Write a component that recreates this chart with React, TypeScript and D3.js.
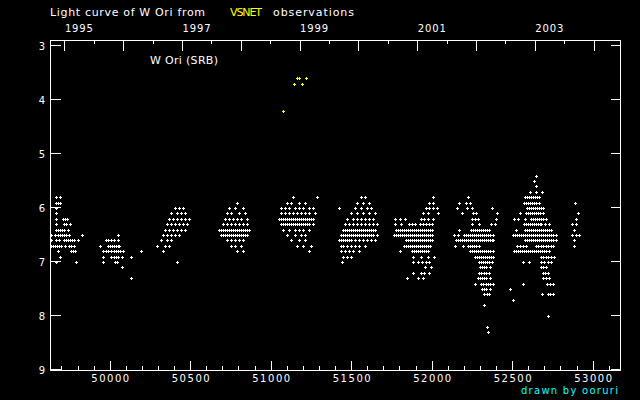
import React from 'react';
import * as d3 from 'd3';

type Rows = [number, number[]][];

// Visual estimates (JD - 2400000) grouped by magnitude row, per observing season
const season1: Rows = [
  [5.8, [49669, 49694]],
  [5.9, [49669, 49681, 49694]],
  [6.0, [49669]],
  [6.1, [49666]],
  [6.2, [49666, 49709, 49722, 49734]],
  [6.3, [49666, 49716, 49731, 49753]],
  [6.4, [49666, 49678, 49691, 49703, 49716, 49740]],
  [6.5, [49635, 49660, 49681, 49694, 49706, 49719, 49731, 49747, 49827]],
  [6.6, [49635, 49666, 49688, 49716, 49728, 49740, 49753, 49765, 49778, 49803]],
  [6.7, [49635, 49647, 49660, 49672, 49685, 49697, 49722, 49750, 49762, 49781]],
  [6.8, [49678, 49759, 49771, 49787]],
  [6.9, [49691]],
  [7.0, [49666, 49790]],
];

const season2: Rows = [
  [6.5, [50050]],
  [6.6, [49976, 49989, 50011, 50029, 50050]],
  [6.7, [49938, 49988, 50000, 50012, 50026, 50040, 50051, 50060]],
  [6.8, [49961, 49976, 49992, 50009, 50026, 50039, 50051, 50063, 50081, 50193]],
  [6.9, [49961, 50011, 50025, 50040, 50051, 50075, 50130]],
  [7.0, [49961, 50035, 50048]],
  [7.1, [50075]],
  [7.3, [50130]],
];

const season3: Rows = [
  [6.0, [50408, 50433, 50458]],
  [6.1, [50383, 50421, 50445, 50470]],
  [6.2, [50371, 50396, 50421, 50445, 50470, 50495]],
  [6.3, [50358, 50383, 50408, 50433, 50458, 50483]],
  [6.4, [50346, 50371, 50396, 50421, 50445, 50470]],
  [6.5, [50334, 50358, 50383, 50408, 50433]],
  [6.6, [50321, 50358, 50383]],
  [6.7, [50296, 50346, 50371]],
  [6.8, [50334]],
  [7.0, [50421]],
];

const season4: Rows = [
  [5.9, [50793]],
  [6.0, [50744, 50781, 50830]],
  [6.1, [50731, 50756, 50806, 50843]],
  [6.2, [50719, 50744, 50768, 50793, 50818, 50855]],
  [6.3, [50706, 50731, 50756, 50781, 50806, 50830, 50855]],
  [6.4, [50681, 50694, 50706, 50719, 50731, 50744, 50756, 50768, 50781, 50793, 50806, 50818, 50830, 50843, 50855, 50868]],
  [6.5, [50694, 50706, 50719, 50731, 50744, 50756, 50768, 50781, 50793, 50806, 50818, 50830, 50843, 50855]],
  [6.6, [50731, 50756, 50781, 50806, 50830]],
  [6.7, [50756, 50781, 50818]],
  [6.8, [50793, 50830]],
];

const season5: Rows = [
  [5.8, [51141, 51290]],
  [5.9, [51104, 51129, 51178, 51215]],
  [6.0, [51066, 51091, 51116, 51153, 51178, 51203, 51240, 51265]],
  [6.1, [51066, 51091, 51116, 51141, 51166, 51191, 51215, 51240, 51278]],
  [6.2, [51054, 51066, 51079, 51091, 51104, 51116, 51129, 51141, 51153, 51166, 51178, 51191, 51203, 51215, 51228, 51240, 51253, 51265]],
  [6.3, [51066, 51079, 51091, 51104, 51116, 51129, 51141, 51153, 51166, 51178, 51191, 51203, 51215, 51228, 51240, 51265]],
  [6.4, [51079, 51116, 51153, 51178, 51203, 51240]],
  [6.5, [51104, 51153, 51191, 51215]],
  [6.6, [51129, 51178, 51215]],
  [6.7, [51166, 51203, 51253]],
  [6.8, [51240]],
];

const season6: Rows = [
  [5.8, [51563, 51588]],
  [5.9, [51539, 51576, 51613]],
  [6.0, [51427, 51526, 51563, 51601, 51625]],
  [6.1, [51501, 51539, 51576, 51613, 51650]],
  [6.2, [51476, 51514, 51539, 51563, 51588, 51613, 51638]],
  [6.3, [51464, 51489, 51514, 51539, 51563, 51588, 51613, 51638, 51663]],
  [6.4, [51452, 51464, 51476, 51489, 51501, 51514, 51526, 51539, 51551, 51563, 51576, 51588, 51601, 51613, 51625, 51638, 51650]],
  [6.5, [51439, 51452, 51464, 51476, 51489, 51501, 51514, 51526, 51539, 51551, 51563, 51576, 51588, 51601, 51613, 51625, 51638, 51663]],
  [6.6, [51427, 51439, 51452, 51464, 51476, 51489, 51501, 51526, 51551, 51576, 51601, 51625, 51650]],
  [6.7, [51439, 51452, 51476, 51501, 51526, 51551, 51588]],
  [6.8, [51439, 51464, 51489, 51514, 51551]],
  [6.9, [51452, 51476, 51501]],
  [7.0, [51445]],
];

const season7: Rows = [
  [5.8, [52006]],
  [5.9, [51985, 52010]],
  [6.0, [51965, 51985, 52010, 52031]],
  [6.1, [51944, 51975, 52037]],
  [6.2, [51774, 51803, 51832, 51934, 51954, 51975, 52006]],
  [6.3, [51774, 51811, 51857, 51878, 51898, 51928, 51948, 51967, 51985, 52000]],
  [6.4, [51780, 51793, 51805, 51818, 51830, 51842, 51855, 51867, 51880, 51892, 51904, 51917, 51929, 51942, 51954, 51966, 51979, 51991, 52004]],
  [6.5, [51768, 51781, 51793, 51805, 51818, 51830, 51843, 51855, 51867, 51880, 51892, 51905, 51917, 51929, 51942, 51954, 51967, 51979, 51991, 52004]],
  [6.6, [51841, 51853, 51866, 51878, 51890, 51903, 51915, 51928, 51940, 51952, 51965, 51977, 51990, 52000]],
  [6.7, [51830, 51843, 51855, 51867, 51880, 51892, 51905, 51917, 51929, 51942, 51954, 51967, 51979, 51991]],
  [6.8, [51803, 51876, 51888, 51901, 51913, 51926, 51938, 51950, 51963, 51975]],
  [6.9, [51882, 51934, 51975, 52017]],
  [7.0, [51882, 51917, 51942, 51967, 51985]],
  [7.1, [51959, 51996]],
  [7.2, [51886, 51934, 51954, 51985]],
  [7.3, [51845, 51917, 51944]],
];

const season8: Rows = [
  [5.8, [52228]],
  [5.9, [52168, 52214, 52239]],
  [6.0, [52155, 52217, 52248, 52373]],
  [6.1, [52186, 52255, 52276, 52404]],
  [6.2, [52248, 52268, 52290, 52400]],
  [6.3, [52248, 52292, 52369, 52394]],
  [6.4, [52172, 52245, 52259, 52271, 52284, 52296, 52309, 52321, 52333, 52346, 52358]],
  [6.5, [52141, 52161, 52203, 52215, 52228, 52240, 52253, 52265, 52278, 52290, 52302, 52315, 52327, 52340, 52352, 52364, 52379]],
  [6.6, [52152, 52164, 52176, 52189, 52201, 52214, 52226, 52239, 52251, 52263, 52276, 52288, 52300, 52313, 52325, 52338, 52350, 52363, 52375, 52383]],
  [6.7, [52147, 52193, 52224, 52237, 52250, 52262, 52275, 52292]],
  [6.8, [52240, 52253, 52265, 52278, 52290, 52302, 52315, 52327, 52340, 52352, 52364, 52379]],
  [6.9, [52271, 52284, 52296, 52309, 52321, 52333, 52346, 52358, 52371, 52383]],
  [7.0, [52292, 52306, 52318, 52331, 52343, 52355, 52375]],
  [7.1, [52301, 52315, 52327, 52340, 52363]],
  [7.2, [52296, 52309, 52324, 52340, 52358]],
  [7.3, [52286, 52299, 52312, 52327, 52340, 52363]],
  [7.4, [52271, 52307, 52321, 52336, 52352, 52364, 52379]],
  [7.5, [52313, 52327, 52340, 52363]],
  [7.6, [52327, 52343, 52358]],
  [7.8, [52327]],
  [8.2, [52342]],
  [8.3, [52348]],
];

const season9: Rows = [
  [5.4, [52650]],
  [5.5, [52638]],
  [5.6, [52650]],
  [5.7, [52609, 52648, 52683]],
  [5.8, [52582, 52595, 52607, 52619, 52632, 52644, 52656, 52669]],
  [5.9, [52576, 52588, 52601, 52613, 52626, 52638, 52650, 52669]],
  [6.0, [52590, 52604, 52616, 52629, 52641, 52653, 52666, 52678, 52689]],
  [6.1, [52547, 52587, 52601, 52613, 52626, 52638, 52650, 52663, 52675, 52689]],
  [6.2, [52514, 52539, 52582, 52618, 52632, 52644, 52656, 52669, 52681, 52694, 52711]],
  [6.3, [52571, 52585, 52597, 52610, 52622, 52635, 52647, 52660, 52672, 52680, 52706, 52731]],
  [6.4, [52524, 52582, 52595, 52607, 52619, 52632, 52644, 52656, 52669, 52681, 52694, 52706, 52719, 52731, 52742]],
  [6.5, [52503, 52517, 52529, 52542, 52554, 52567, 52579, 52591, 52604, 52616, 52629, 52641, 52653, 52666, 52678, 52691, 52703, 52715, 52728, 52740, 52753, 52773]],
  [6.6, [52582, 52595, 52607, 52619, 52632, 52644, 52656, 52669, 52681, 52694, 52706, 52719, 52731, 52743, 52756, 52773]],
  [6.7, [52528, 52548, 52567, 52587, 52648, 52663, 52678, 52694, 52709, 52725, 52740, 52751]],
  [6.8, [52514, 52526, 52539, 52551, 52563, 52576, 52588, 52601, 52613, 52626, 52638, 52650, 52663, 52675, 52688, 52700, 52713, 52731]],
  [6.9, [52680, 52694, 52709, 52725, 52740, 52762]],
  [7.0, [52565, 52602, 52680, 52700, 52721, 52742]],
  [7.1, [52680, 52694, 52711]],
  [7.2, [52689, 52705, 52721]],
  [7.3, [52694, 52711, 52727]],
  [7.4, [52565, 52714, 52733, 52751]],
  [7.5, [52487]],
  [7.6, [52683, 52721, 52737, 52751]],
  [7.7, [52507]],
  [8.0, [52725]],
];

const season10: Rows = [
  [5.9, [52888]],
  [6.1, [52907]],
  [6.2, [52897]],
  [6.3, [52874, 52897]],
  [6.4, [52886]],
  [6.5, [52874, 52897, 52917]],
  [6.6, [52886]],
  [6.7, [52886]],
];

// Highlighted (yellow) estimates: [JD, mag]
const yellowObs: [number, number][] = [
  [51075, 4.2],
  [51143, 3.7],
  [51162, 3.6],
  [51176, 3.6],
  [51193, 3.7],
  [51217, 3.6],
];

const magTicks = [3, 4, 5, 6, 7, 8, 9];
const jdMajor = [50000, 50500, 51000, 51500, 52000, 52500, 53000];
const jdMinor = d3.range(49700, 53101, 100);
const years = [1995, 1996, 1997, 1998, 1999, 2000, 2001, 2002, 2003, 2004, 2005];
const yearStartJD = [49718.5, 50083.5, 50449.5, 50814.5, 51179.5, 51544.5, 51910.5, 52275.5, 52640.5, 53005.5, 53371.5];
const yearLabels = [1995, 1997, 1999, 2001, 2003];

const allSeasons = [season1, season2, season3, season4, season5, season6, season7, season8, season9, season10];

export default function App() {
  const left = 50.5, right = 620.5, top = 40.5, bottom = 370.5;
  const x = d3.scaleLinear().domain([49629, 53170]).range([left, right]);
  const y = d3.scaleLinear().domain([3, 9]).range([45.5, 369.5]);

  const plus = (jd: number, m: number) => {
    const cx = Math.floor(x(jd)) + 0.5;
    const cy = Math.floor(y(m)) + 1.5;
    return `M${cx - 1.5},${cy}h3M${cx},${cy - 1.5}v3`;
  };

  let whitePath = '';
  allSeasons.forEach((s) =>
    s.forEach(([m, jds]) => jds.forEach((jd) => { whitePath += plus(jd, m); }))
  );
  const yellowPath = yellowObs.map(([jd, m]) => plus(jd, m)).join('');

  const font = "'DejaVu Sans', sans-serif";
  const xMinor = jdMinor.filter((v) => !jdMajor.includes(v));
  const mids: number[] = [];
  for (let i = 0; i < yearStartJD.length - 1; i++) mids.push((yearStartJD[i] + yearStartJD[i + 1]) / 2);
  const inRange = (v: number) => x(v) > left + 1 && x(v) < right - 1;

  return (
    <>
      <style>{`body{margin:0;background:#000}`}</style>
      <svg width={640} height={400} style={{ display: 'block' }} fontFamily={font}>
        <rect x={0} y={0} width={640} height={400} fill="#000" />
        {/* title */}
        <text x={50} y={16} fill="#fff" fontSize={11} textLength={155} lengthAdjust="spacing">Light curve of W Ori from</text>
        <text x={230} y={16} fill="#ffff00" fontSize={11} textLength={32} lengthAdjust="spacing">VSNET</text>
        <text x={273} y={16} fill="#fff" fontSize={11} textLength={81} lengthAdjust="spacing">observations</text>

        {/* frame */}
        <path d={`M${left},${top}H${right}V${bottom}H${left}Z`} fill="none" stroke="#fff" strokeWidth={1} shapeRendering="crispEdges" />

        {/* y ticks */}
        {magTicks.map((m) => (
          <g key={m}>
            <line x1={left} x2={left + 10} y1={y(m)} y2={y(m)} stroke="#fff" shapeRendering="crispEdges" />
            <line x1={right - 10} x2={right} y1={y(m)} y2={y(m)} stroke="#fff" shapeRendering="crispEdges" />
            <text x={45} y={y(m) + 4} fill="#fff" fontSize={10} textAnchor="end">{m}</text>
          </g>
        ))}

        {/* bottom JD ticks */}
        {jdMajor.map((v) => (
          <g key={v}>
            <line x1={Math.floor(x(v)) + 0.5} x2={Math.floor(x(v)) + 0.5} y1={bottom} y2={bottom - 10} stroke="#fff" shapeRendering="crispEdges" />
            <text x={x(v)} y={382} fill="#fff" fontSize={10} textAnchor="middle" textLength={38} lengthAdjust="spacing">{v}</text>
          </g>
        ))}
        {xMinor.filter(inRange).map((v) => (
          <line key={v} x1={Math.floor(x(v)) + 0.5} x2={Math.floor(x(v)) + 0.5} y1={bottom} y2={bottom - 5} stroke="#fff" shapeRendering="crispEdges" />
        ))}

        {/* top year ticks */}
        {yearStartJD.filter(inRange).map((v) => (
          <line key={v} x1={Math.floor(x(v)) + 0.5} x2={Math.floor(x(v)) + 0.5} y1={top} y2={top + 10} stroke="#fff" shapeRendering="crispEdges" />
        ))}
        {mids.filter(inRange).map((v) => (
          <line key={v} x1={Math.floor(x(v)) + 0.5} x2={Math.floor(x(v)) + 0.5} y1={top} y2={top + 3} stroke="#fff" shapeRendering="crispEdges" />
        ))}
        {yearLabels.map((yr) => {
          const jd = yearStartJD[years.indexOf(yr)];
          return (
            <text key={yr} x={x(jd)} y={32} fill="#fff" fontSize={10} textLength={28} lengthAdjust="spacing">{yr}</text>
          );
        })}

        {/* star label */}
        <text x={150} y={64} fill="#fff" fontSize={11} textLength={68} lengthAdjust="spacing">W Ori (SRB)</text>

        {/* data */}
        <path d={whitePath} stroke="#fff" strokeWidth={1} fill="none" shapeRendering="crispEdges" />
        <path d={yellowPath} stroke="#ffff00" strokeWidth={1} fill="none" shapeRendering="crispEdges" />

        {/* credit */}
        <text x={618} y={394} fill="#00ffff" fontSize={10} textAnchor="end" textLength={97} lengthAdjust="spacing">drawn by ooruri</text>
      </svg>
    </>
  );
}
